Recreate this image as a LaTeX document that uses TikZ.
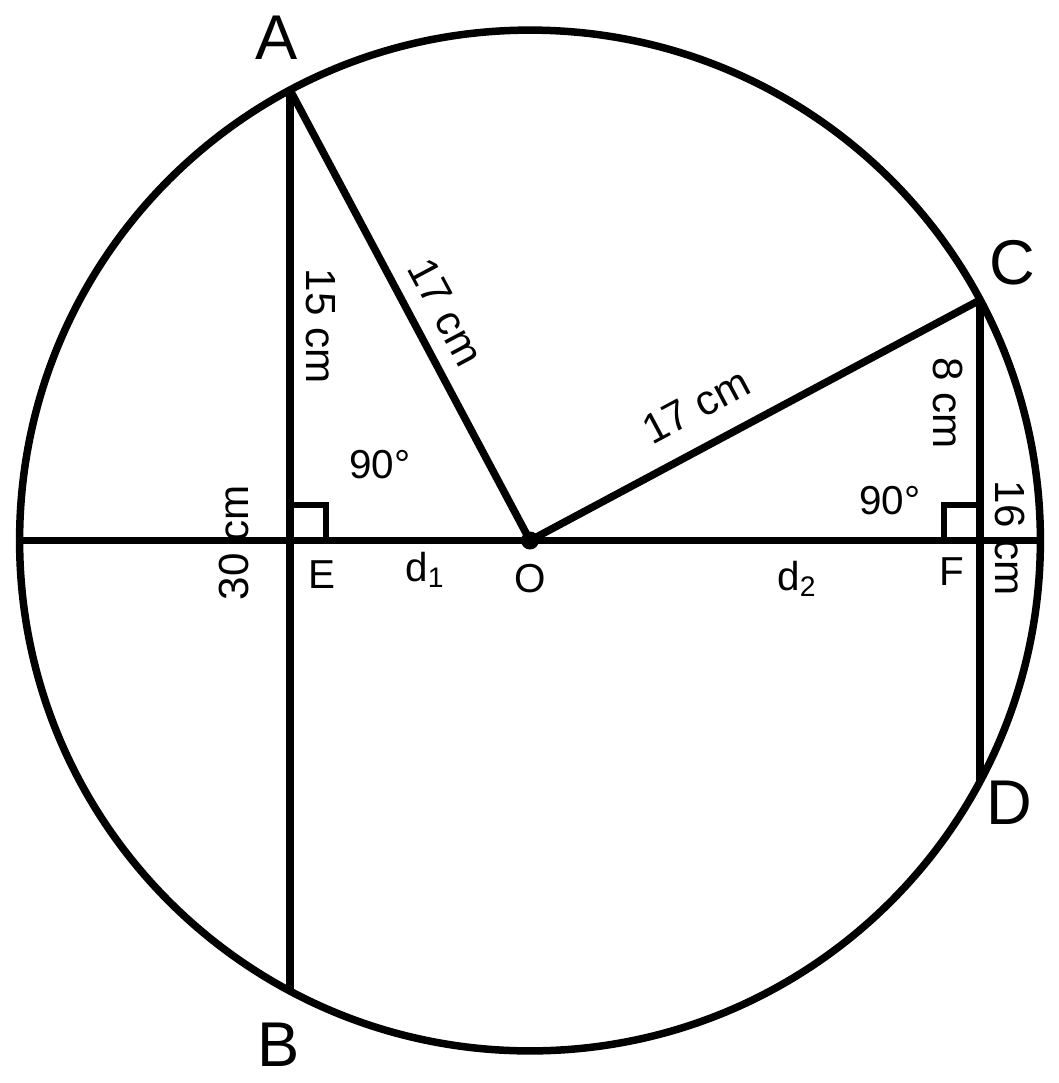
\documentclass[tikz,border=0pt]{standalone}
\usepackage{fontspec}
\setmainfont{Liberation Sans}
\usetikzlibrary{calc}

\tikzset{
  pnt/.style={inner sep=0pt, font=\fontsize{36}{36}\selectfont},
  lbl/.style={inner sep=0pt, font=\fontsize{23}{23}\selectfont},
  len/.style={inner sep=0pt, font=\fontsize{24}{24}\selectfont},
  mark90/.style={line width=0.12cm},
}

\begin{document}
\begin{tikzpicture}[x=0.02cm, y=-0.02cm, line width=0.15cm]
        \useasboundingbox (0,0) rectangle (1059,1083);
        % points of the figure
        \coordinate (O) at (530,540.5);
        \coordinate (A) at (290,90);
        \coordinate (B) at (290,991);
        \coordinate (C) at (980,300);
        \coordinate (D) at (980,781);
        \coordinate (E) at (290,540.5);
        \coordinate (F) at (980,540.5);
        \coordinate (W) at (19.5,540.5);
        \coordinate (R) at (1040.5,540.5);
        \draw (O) circle[radius=10.21cm];
        \draw (W) -- (R);
        \draw (A) -- (B);
        \draw (C) -- (D);
        \draw[line join=round] (A) -- (O) -- (C);
        \fill (O) circle[radius=0.18cm];
        % right angles
        \draw[mark90] ($(E)+(0,-36)$) -- ++(36,0) -- ++(0,36);
        \draw[mark90] ($(F)+(0,-36)$) -- ++(-36,0) -- ++(0,36);
        % letters
        \node[pnt] (lA) at (277,38) {A};
        \node[pnt] (lB) at (279,1045) {B};
        \node[pnt] (lC) at (1012,263) {C};
        \node[pnt] (lD) at (1009,803) {D};
        \node[lbl] (lE) at (322,575) {E};
        \node[lbl] (lO) at (530,579) {O};
        \node[lbl] (lF) at (952,572) {F};
        \node[lbl] (d1) at (425,570) {d\textsubscript{1}};
        \node[lbl] (d2) at (797,579) {d\textsubscript{2}};
        \node[lbl] (aE) at (380,465) {90°};
        \node[lbl] (aF) at (890,501) {90°};
        % lengths
        \node[len, rotate=-90] (lAE) at (321,326) {15 cm};
        \node[len, rotate=-61.9] (lAO) at (446,312) {17 cm};
        \node[len, rotate=28.1] (lOC) at (696,406) {17 cm};
        \node[len, rotate=-90] (lCF) at (948,403) {8 cm};
        \node[len, rotate=90] (lAB) at (234,543) {30 cm};
        \node[len, rotate=-90] (lCD) at (1010,538) {16 cm};
\end{tikzpicture}
\end{document}
